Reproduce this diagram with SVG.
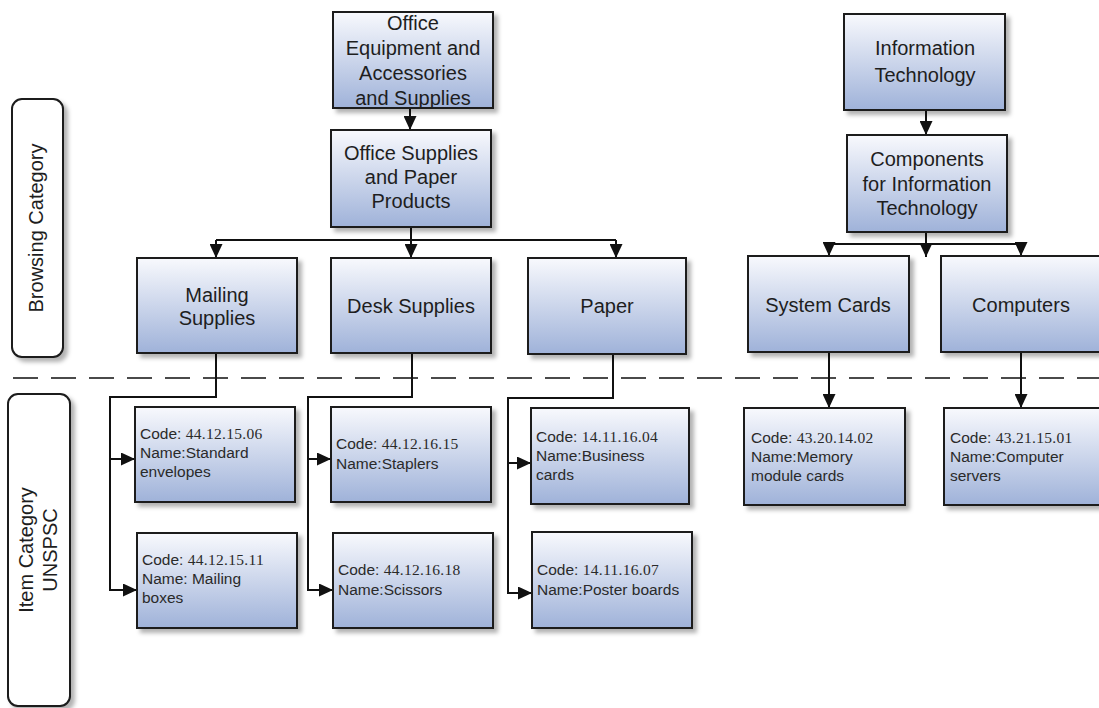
<svg xmlns="http://www.w3.org/2000/svg" width="1099" height="708" viewBox="0 0 1099 708">
<defs>
<linearGradient id="bg" x1="0" y1="0" x2="0" y2="1">
<stop offset="0" stop-color="#f8f9fd"/>
<stop offset="1" stop-color="#9fb2d9"/>
</linearGradient>
<filter id="sh" x="-10%" y="-10%" width="130%" height="130%">
<feDropShadow dx="4" dy="4" stdDeviation="2" flood-color="#000" flood-opacity="0.3"/>
</filter>
<marker id="ah" markerUnits="userSpaceOnUse" markerWidth="14" markerHeight="13" refX="14" refY="6.5" orient="auto">
<path d="M0,0 L14,6.5 L0,13 z" fill="#111"/>
</marker>
</defs>
<style>
.box{fill:url(#bg);stroke:#1a1a1a;stroke-width:2;filter:url(#sh)}
.lab{fill:#fff;stroke:#1a1a1a;stroke-width:2;filter:url(#sh)}
.t{font-family:"Liberation Sans",Arial,sans-serif;font-size:20px;fill:#1e1e1e;text-anchor:middle}
.it{font-family:"Liberation Sans",Arial,sans-serif;font-size:15.5px;fill:#2a2a2a}
.num{font-family:"Liberation Serif","Times New Roman",serif;font-size:15.5px;fill:#2a2a2a;letter-spacing:0.3px}
.c{fill:none;stroke:#111;stroke-width:2}
.a{fill:none;stroke:#111;stroke-width:2;marker-end:url(#ah)}
.dash{fill:none;stroke:#4a4a4a;stroke-width:2.2;stroke-dasharray:25 13}
</style>

<line class="dash" x1="13" y1="378" x2="1099" y2="378"/>

<g id="lab-browsing">
<rect class="lab" x="12" y="99" width="51" height="258" rx="10"/>
<text class="t" transform="translate(36,228) rotate(-90)" x="0" y="7">Browsing Category</text>
</g>
<g id="lab-item">
<rect class="lab" x="8" y="394" width="62" height="312" rx="10"/>
<text class="t" transform="translate(40,550) rotate(-90)" x="0" y="-7">Item Category</text>
<text class="t" transform="translate(40,550) rotate(-90)" x="0" y="17">UNSPSC</text>
</g>

<g id="connectors">
<path class="a" d="M410,108 L410,130"/>
<path class="c" d="M216,240 L616,240"/>
<path class="c" d="M411,227 L411,240"/>
<path class="a" d="M216,240 L216,258"/>
<path class="a" d="M411,240 L411,258"/>
<path class="a" d="M616,240 L616,258"/>
<path class="a" d="M926,110 L926,135"/>
<path class="c" d="M829,244 L1021,244"/>
<path class="a" d="M926,232 L926,257"/>
<path class="a" d="M829,244 L829,256"/>
<path class="a" d="M1021,244 L1021,256"/>
<path class="c" d="M216,353 L216,397 L110,397 L110,459"/>
<path class="a" d="M110,459 L135,459"/>
<path class="a" d="M110,459 L110,590 L137,590"/>
<path class="c" d="M412,353 L412,397 L308,397 L308,459"/>
<path class="a" d="M308,459 L331,459"/>
<path class="a" d="M308,459 L308,590 L333,590"/>
<path class="c" d="M613,354 L613,398 L508,398 L508,463"/>
<path class="a" d="M508,463 L531,463"/>
<path class="a" d="M508,463 L508,593 L532,593"/>
<path class="a" d="M829,352 L829,408"/>
<path class="a" d="M1021,352 L1021,408"/>
</g>

<g id="n-office-equipment">
<rect class="box" x="333" y="12" width="160" height="96"/>
<text class="t" x="413" y="30">Office</text>
<text class="t" x="413" y="55">Equipment and</text>
<text class="t" x="413" y="80">Accessories</text>
<text class="t" x="413" y="105">and Supplies</text>
</g>
<g id="n-office-supplies">
<rect class="box" x="331" y="130" width="160" height="97"/>
<text class="t" x="411" y="160">Office Supplies</text>
<text class="t" x="411" y="184">and Paper</text>
<text class="t" x="411" y="208">Products</text>
</g>
<g id="n-mailing">
<rect class="box" x="137" y="258" width="160" height="95"/>
<text class="t" x="217" y="302">Mailing</text>
<text class="t" x="217" y="325">Supplies</text>
</g>
<g id="n-desk">
<rect class="box" x="331" y="258" width="160" height="95"/>
<text class="t" x="411" y="313">Desk Supplies</text>
</g>
<g id="n-paper">
<rect class="box" x="528" y="258" width="158" height="96"/>
<text class="t" x="607" y="313">Paper</text>
</g>
<g id="n-it">
<rect class="box" x="844" y="14" width="161" height="96"/>
<text class="t" x="925" y="55">Information</text>
<text class="t" x="925" y="82">Technology</text>
</g>
<g id="n-components">
<rect class="box" x="847" y="135" width="160" height="97"/>
<text class="t" x="927" y="166">Components</text>
<text class="t" x="927" y="191">for Information</text>
<text class="t" x="927" y="215">Technology</text>
</g>
<g id="n-system-cards">
<rect class="box" x="748" y="256" width="161" height="96"/>
<text class="t" x="828" y="312">System Cards</text>
</g>
<g id="n-computers">
<rect class="box" x="941" y="256" width="160" height="96"/>
<text class="t" x="1021" y="312">Computers</text>
</g>

<g id="i-envelopes">
<rect class="box" x="135" y="407" width="160" height="95"/>
<text class="it" x="140" y="439">Code: <tspan class="num">44.12.15.06</tspan></text>
<text class="it" x="140" y="458">Name:Standard</text>
<text class="it" x="140" y="477">envelopes</text>
</g>
<g id="i-mailing-boxes">
<rect class="box" x="137" y="533" width="160" height="95"/>
<text class="it" x="142" y="565">Code: <tspan class="num">44.12.15.11</tspan></text>
<text class="it" x="142" y="584">Name: Mailing</text>
<text class="it" x="142" y="603">boxes</text>
</g>
<g id="i-staplers">
<rect class="box" x="331" y="407" width="160" height="95"/>
<text class="it" x="336" y="449">Code: <tspan class="num">44.12.16.15</tspan></text>
<text class="it" x="336" y="469">Name:Staplers</text>
</g>
<g id="i-scissors">
<rect class="box" x="333" y="533" width="160" height="95"/>
<text class="it" x="338" y="575">Code: <tspan class="num">44.12.16.18</tspan></text>
<text class="it" x="338" y="595">Name:Scissors</text>
</g>
<g id="i-business-cards">
<rect class="box" x="531" y="408" width="158" height="96"/>
<text class="it" x="536" y="442">Code: <tspan class="num">14.11.16.04</tspan></text>
<text class="it" x="536" y="461">Name:Business</text>
<text class="it" x="536" y="480">cards</text>
</g>
<g id="i-poster-boards">
<rect class="box" x="532" y="532" width="160" height="96"/>
<text class="it" x="537" y="575">Code: <tspan class="num">14.11.16.07</tspan></text>
<text class="it" x="537" y="595">Name:Poster boards</text>
</g>
<g id="i-memory">
<rect class="box" x="744" y="408" width="161" height="97"/>
<text class="it" x="751" y="443">Code: <tspan class="num">43.20.14.02</tspan></text>
<text class="it" x="751" y="462">Name:Memory</text>
<text class="it" x="751" y="481">module cards</text>
</g>
<g id="i-servers">
<rect class="box" x="944" y="408" width="160" height="97"/>
<text class="it" x="950" y="443">Code: <tspan class="num">43.21.15.01</tspan></text>
<text class="it" x="950" y="462">Name:Computer</text>
<text class="it" x="950" y="481">servers</text>
</g>
</svg>
